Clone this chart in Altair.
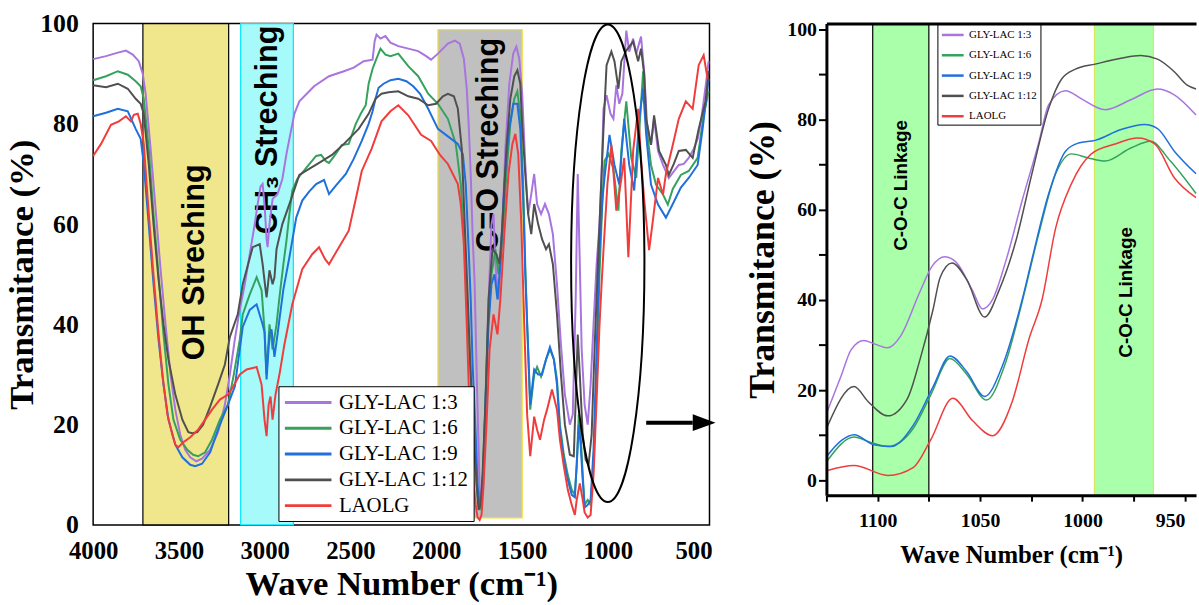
import altair as alt
import pandas as pd

series = ["GLY-LAC 1:3", "GLY-LAC 1:6", "GLY-LAC 1:9", "GLY-LAC 1:12", "LAOLG"]
colors = ["#a874e0", "#34a25c", "#1f6fdc", "#505050", "#f03c3c"]

# ---------------- left panel: full FTIR spectra ----------------
wn_13 = [4000, 3925, 3856, 3809, 3769, 3734, 3711, 3694, 3665, 3636, 3607, 3578, 3549, 3521, 3492, 3463, 3434, 3399, 3365, 3318, 3272, 3232, 3203, 3174, 3145, 3116, 3087, 3058, 3041, 3024, 3012, 3001, 2989, 2983, 2972, 2954, 2925, 2897, 2873, 2856, 2827, 2798, 2769, 2712, 2625, 2538, 2481, 2423, 2371, 2359, 2348, 2325, 2296, 2267, 2221, 2163, 2105, 2059, 2030, 1990, 1932, 1891, 1863, 1839, 1822, 1811, 1799, 1788, 1776, 1764, 1753, 1747, 1741, 1730, 1718, 1701, 1689, 1678, 1666, 1655, 1637, 1620, 1597, 1574, 1551, 1533, 1516, 1499, 1481, 1464, 1446, 1429, 1412, 1389, 1366, 1343, 1320, 1296, 1273, 1250, 1221, 1204, 1187, 1175, 1163, 1152, 1135, 1117, 1100, 1083, 1065, 1048, 1036, 1025, 1007, 984, 967, 950, 933, 915, 892, 875, 852, 834, 806, 788, 771, 748, 730, 707, 678, 644, 615, 586, 557, 528, 499, 476, 459, 441, 424, 412]
tr_13 = [92.9, 93.5, 94.2, 94.6, 93.8, 92.5, 90, 86, 75, 63, 51, 40, 30, 23, 18, 15, 13.5, 12.7, 13.2, 15, 18.5, 24, 30, 37, 43, 48, 54, 60, 64, 67.5, 68, 64, 57, 55.4, 60, 65, 66, 69, 74, 77, 82, 84.5, 85.5, 87.5, 89.5, 90.5, 91.2, 92.5, 92.8, 96.5, 97.8, 97, 97.5, 96.2, 95.5, 95, 94.5, 93.5, 92.8, 94, 96, 96.6, 96, 93, 87, 80, 70, 58, 48, 30, 15, 7, 5.5, 8, 18, 38, 50, 60, 62, 52, 45, 55, 75, 88, 94, 95.4, 93, 86, 72, 62, 66, 70, 64, 62, 64, 62, 58, 48, 36, 26, 20, 22, 45, 70, 52, 35, 24, 20, 28, 40, 52, 60, 70, 83, 85.7, 82, 81, 87.7, 84, 86, 98.6, 94.4, 97, 94, 97.4, 90.5, 80, 75.8, 81, 74.6, 71.8, 69.2, 70.5, 71.8, 72, 73.2, 75, 77, 80, 84.5, 89, 92.5]

wn_16 = [4000, 3925, 3856, 3798, 3752, 3723, 3705, 3676, 3648, 3619, 3590, 3561, 3532, 3492, 3451, 3417, 3388, 3347, 3307, 3261, 3214, 3180, 3145, 3128, 3087, 3047, 3018, 3001, 2989, 2972, 2954, 2931, 2914, 2891, 2873, 2856, 2839, 2810, 2758, 2700, 2671, 2642, 2625, 2596, 2550, 2510, 2469, 2440, 2411, 2394, 2371, 2354, 2325, 2296, 2267, 2221, 2163, 2105, 2047, 1990, 1932, 1886, 1857, 1834, 1816, 1799, 1782, 1764, 1753, 1741, 1730, 1718, 1701, 1678, 1655, 1637, 1614, 1591, 1568, 1545, 1527, 1510, 1493, 1481, 1470, 1452, 1429, 1412, 1389, 1360, 1337, 1314, 1296, 1279, 1256, 1233, 1210, 1192, 1181, 1169, 1158, 1146, 1135, 1117, 1100, 1083, 1065, 1048, 1031, 1019, 996, 967, 938, 921, 892, 863, 834, 806, 794, 776, 748, 719, 678, 650, 621, 574, 528, 476, 441, 412]
tr_16 = [88.7, 89.5, 90.5, 89.8, 88.5, 87.5, 85, 75, 62, 50, 38, 28, 21, 17, 15, 14, 13.7, 14.5, 17, 21, 24, 30, 37, 42, 46, 49.4, 46.8, 38.9, 30, 40, 35, 40, 45.4, 52, 56.7, 62, 66.7, 69, 71.2, 73.6, 73.8, 72.5, 72.2, 73.5, 75.8, 76, 80, 82, 83.7, 88, 91, 92.5, 95, 93.8, 93.5, 94, 91.5, 89.5, 86, 84, 81, 76, 68, 55, 40, 30, 18, 8, 4, 3, 8, 20, 38, 50, 55, 50, 57, 70, 80, 85, 86.5, 82, 68, 52, 40, 23, 30, 31.5, 29.6, 33, 35, 33, 29, 20, 14, 10, 7, 6, 12, 22, 18, 10, 4, 5, 4, 12, 30, 50, 65, 72.6, 74, 71, 62.7, 74.6, 84.5, 73.2, 69.2, 84, 90.5, 79.8, 71.8, 67.9, 65.9, 63.9, 67, 69.8, 70.6, 73.2, 81.7, 86.5]

wn_19 = [4000, 3925, 3856, 3798, 3752, 3723, 3705, 3676, 3648, 3619, 3590, 3561, 3521, 3480, 3434, 3405, 3365, 3318, 3272, 3214, 3174, 3128, 3087, 3047, 3012, 3001, 2989, 2972, 2960, 2943, 2925, 2914, 2891, 2856, 2816, 2781, 2741, 2700, 2654, 2625, 2590, 2527, 2481, 2434, 2394, 2371, 2354, 2336, 2307, 2267, 2221, 2174, 2134, 2094, 2047, 1990, 1932, 1874, 1845, 1828, 1811, 1799, 1788, 1770, 1759, 1747, 1736, 1724, 1712, 1695, 1678, 1660, 1643, 1626, 1603, 1579, 1551, 1527, 1510, 1493, 1481, 1464, 1452, 1429, 1406, 1383, 1360, 1337, 1314, 1296, 1279, 1256, 1233, 1210, 1192, 1181, 1169, 1158, 1146, 1135, 1117, 1100, 1083, 1065, 1048, 1031, 1019, 990, 961, 933, 904, 875, 846, 817, 794, 776, 748, 707, 661, 621, 574, 528, 476, 447, 412]
tr_19 = [81.5, 82.2, 83, 82.5, 79, 77, 72, 60, 48, 37, 28, 21, 16, 13.5, 12, 11.7, 12.2, 14.5, 19, 24, 27.6, 39.5, 42.9, 44, 40, 38.5, 29, 38, 39, 33.5, 38, 41, 47, 53.4, 61.3, 64.7, 66.5, 68, 68.8, 66, 67.5, 70, 73, 76.6, 80, 82.5, 85, 87.2, 88, 88.7, 89, 88.5, 87.5, 86, 83, 79, 77.5, 76, 74, 68, 55, 45, 32, 18, 8, 4, 5, 12, 25, 40, 48, 50, 45, 52, 68, 78, 84, 84, 79, 65, 50, 35, 24, 31, 30, 30, 33, 35.5, 33, 28, 19, 13, 9, 6, 5.5, 12, 20, 16, 9, 3.5, 4, 5, 15, 35, 55, 65, 69.2, 77.8, 71.8, 67.9, 81, 71.8, 66.7, 81, 87, 77.8, 67.9, 63.9, 61.3, 64, 67.3, 69.2, 71.8, 79, 89]

wn_112 = [4000, 3925, 3856, 3798, 3752, 3723, 3705, 3676, 3648, 3619, 3590, 3561, 3521, 3480, 3445, 3422, 3393, 3359, 3318, 3272, 3232, 3203, 3157, 3128, 3070, 3029, 3012, 2995, 2989, 2972, 2954, 2943, 2931, 2897, 2856, 2798, 2741, 2683, 2608, 2538, 2452, 2394, 2354, 2319, 2278, 2221, 2163, 2105, 2047, 2001, 1961, 1932, 1897, 1874, 1851, 1834, 1816, 1799, 1782, 1764, 1753, 1741, 1730, 1712, 1695, 1672, 1649, 1631, 1614, 1591, 1568, 1545, 1527, 1510, 1499, 1481, 1464, 1446, 1429, 1406, 1383, 1360, 1343, 1320, 1296, 1273, 1250, 1221, 1198, 1187, 1175, 1163, 1146, 1129, 1112, 1094, 1077, 1054, 1036, 1025, 1007, 979, 961, 938, 921, 892, 852, 823, 806, 788, 776, 748, 730, 701, 661, 644, 615, 586, 545, 505, 470, 430, 412]
tr_112 = [87.7, 87.3, 88, 87, 85, 84, 82, 72, 60, 49, 40, 33, 26, 21, 18.5, 18.3, 18.5, 20, 23.6, 28, 32, 37.5, 42, 48, 55.4, 56, 52, 47, 45.4, 50.8, 48, 49.4, 55, 60, 64, 69.8, 71, 72.2, 73.8, 76, 79, 82, 85, 86, 86.3, 86.5, 85.5, 85, 83.7, 84, 85.5, 86, 85.5, 83, 75, 60, 45, 30, 18, 8, 3, 4, 10, 25, 45, 55, 54, 52, 60, 75, 85, 89.5, 90.7, 88, 80, 70, 62, 58, 64, 60, 57, 55, 56, 52, 42, 30, 20, 14, 13.7, 25, 38, 30, 18, 13, 12, 18, 35, 55, 70, 79, 91.7, 94.4, 92.5, 87, 92.5, 94.6, 96.4, 92.5, 95, 90, 81, 75.8, 81.7, 74.6, 71.8, 69.8, 72, 74.6, 74.8, 73.2, 79, 84.5, 90.5]

wn_la = [4000, 3954, 3896, 3850, 3809, 3780, 3763, 3740, 3723, 3705, 3682, 3653, 3624, 3596, 3567, 3538, 3521, 3503, 3474, 3434, 3388, 3347, 3307, 3261, 3214, 3185, 3145, 3105, 3047, 3018, 3001, 2989, 2977, 2966, 2954, 2937, 2914, 2885, 2839, 2781, 2723, 2683, 2648, 2625, 2567, 2510, 2469, 2434, 2377, 2319, 2267, 2221, 2163, 2088, 2030, 1978, 1932, 1903, 1874, 1857, 1839, 1822, 1805, 1788, 1770, 1759, 1747, 1736, 1724, 1707, 1689, 1666, 1643, 1626, 1603, 1579, 1556, 1539, 1522, 1504, 1487, 1470, 1452, 1429, 1412, 1395, 1371, 1354, 1325, 1296, 1279, 1256, 1233, 1210, 1192, 1181, 1163, 1146, 1135, 1117, 1100, 1083, 1065, 1048, 1036, 1025, 1002, 979, 950, 921, 904, 880, 852, 823, 806, 788, 759, 736, 707, 678, 661, 621, 586, 545, 505, 470, 441, 418]
tr_la = [73.6, 76, 79.8, 80.5, 81.5, 80.5, 81.8, 82, 80, 76, 65, 52, 40, 30, 22, 18, 16, 15.5, 16.5, 17.5, 19, 21, 23, 25, 26, 27.5, 30, 31, 31.5, 28, 21, 17.7, 24, 25.6, 21, 26, 30, 36, 44, 51, 54, 55.4, 53, 52, 55.4, 58.7, 65, 70.6, 75, 80.5, 82.5, 83.7, 81.7, 77.8, 76.6, 73.8, 72, 70, 68, 64, 56, 40, 22, 10, 4, 1.5, 1, 2, 8, 20, 35, 42, 38, 45, 58, 70, 76, 78, 74, 60, 40, 22, 13.7, 21.6, 19, 17, 21, 23, 27, 23, 17, 11.7, 7, 4, 2, 5, 8.3, 5, 2.5, 1.5, 2, 10, 25, 40, 48, 54.8, 68, 75.8, 62.7, 69, 73.2, 53.4, 74.6, 83, 73, 65, 54.8, 61, 69.2, 65.9, 70, 75.8, 81, 84.5, 83, 91.7, 93.7, 89]

# ---------------- right panel: 1125-945 cm-1 zoom ----------------
rwn_13 = [1124.5, 1117.8, 1112.9, 1106.7, 1101.8, 1095.1, 1088.8, 1079.2, 1073.4, 1067.1, 1061.3, 1053.6, 1048.8, 1044.0, 1037.2, 1029.5, 1021.3, 1016.5, 1008.3, 1000.5, 989.0, 976.4, 963.4, 955.2, 944.6]
rtr_13 = [15.4, 23.2, 29, 31, 30.3, 29.4, 32, 42, 47.5, 49.6, 48.2, 42, 38, 40, 49, 62, 75, 83.3, 86.4, 84.6, 82.2, 84.4, 86.8, 85.5, 81]

rwn_16 = [1124.5, 1111.5, 1104.0, 1095.1, 1082.5, 1074.0, 1064.7, 1056.5, 1046.9, 1038.0, 1029.5, 1021.3, 1013.1, 1005.4, 997.2, 989.0, 976.4, 966.8, 957.1, 944.6]
rtr_16 = [4.4, 9.6, 8.5, 7.5, 11.6, 19, 27, 23.5, 17.8, 25.5, 39.5, 54.8, 68, 72.4, 71.5, 70.8, 73.7, 75.2, 70.8, 63.6]

rwn_19 = [1124.5, 1117.8, 1111.5, 1101.8, 1093.6, 1082.5, 1072.9, 1064.7, 1056.5, 1047.8, 1039.1, 1029.5, 1024.7, 1016.5, 1008.3, 1002.0, 993.8, 981.2, 969.7, 963.4, 955.2, 944.6]
rtr_19 = [5.5, 8.8, 10.1, 7.9, 7.5, 12.3, 20.8, 27.6, 24.1, 18.6, 25.4, 40, 49, 63.6, 73, 74.8, 75.4, 77.8, 78.9, 78, 73, 68]

rwn_112 = [1124.5, 1111.5, 1104.7, 1095.1, 1085.4, 1079.2, 1072.9, 1069.5, 1063.7, 1056.5, 1047.8, 1040.6, 1032.4, 1024.7, 1016.5, 1010.2, 1003.4, 993.8, 981.2, 971.6, 963.4, 955.2, 949.1, 944.6]
rtr_112 = [12, 20.8, 17.5, 14.3, 18.2, 27, 38, 45, 48.2, 44.5, 36.2, 42.3, 53.3, 68, 82.5, 89, 91.2, 92.3, 93.6, 94.2, 93.4, 90.6, 87.7, 86.8]

rwn_la = [1124.5, 1111.5, 1095.1, 1082.5, 1074.3, 1063.3, 1053.6, 1044.0, 1034.3, 1026.1, 1019.8, 1013.1, 1005.4, 995.7, 984.1, 973.0, 964.8, 955.2, 944.6]
rtr_la = [2.2, 3.3, 1.1, 2.9, 8.8, 18.2, 13.2, 9.9, 17.5, 31.4, 40, 56, 65.8, 72.4, 74.6, 75.9, 74.6, 67.1, 62.7]

# annotation regions
lb_start = [3710, 3140, 1990]
lb_end = [3210, 2833, 1499]
lb_low = [0, 0, 1.4]
lb_high = [100, 100, 98.8]
lb_fill = ["#f0e68c", "#a6fafa", "#c0c0c0"]
lb_stroke = ["#000000", "#00e5ff", "#f2e030"]
lb_text = ["OH Streching", "CH\u2083 Streching", "C=O Streching"]
lb_text_x = [3405, 2983, 1689]
lb_text_y = [52.4, 78.8, 75.8]

rb_start = [1102.4, 994.2]
rb_end = [1075.0, 965.4]
rb_stroke = ["#000000", "#d8e85a"]
rb_text_x = [1088.8, 978.7]
rb_text_y = [65.4, 41.7]

SERIF = "Liberation Serif"
SANS = "Liberation Sans"


def long_df(pairs):
    rows = []
    for name, (xs, ys) in zip(series, pairs):
        for i, (a, b) in enumerate(zip(xs, ys)):
            rows.append({"series": name, "wn": a, "T": b, "idx": i})
    return pd.DataFrame(rows)


left_df = long_df([(wn_13, tr_13), (wn_16, tr_16), (wn_19, tr_19), (wn_112, tr_112), (wn_la, tr_la)])
right_df = long_df([(rwn_13, rtr_13), (rwn_16, rtr_16), (rwn_19, rtr_19), (rwn_112, rtr_112), (rwn_la, rtr_la)])

lband_df = pd.DataFrame({"s": lb_start, "e": lb_end, "lo": lb_low, "hi": lb_high,
                         "fill": lb_fill, "stroke": lb_stroke})
ltext_df = pd.DataFrame({"x": lb_text_x, "y": lb_text_y, "t": lb_text})
rband_df = pd.DataFrame({"s": rb_start, "e": rb_end, "stroke": rb_stroke,
                         "lo": [-3.3, -3.3], "hi": [101.3, 101.3]})
rtext_df = pd.DataFrame({"x": rb_text_x, "y": rb_text_y, "t": ["C-O-C Linkage"] * 2})

# ---------------- left chart ----------------
LX = alt.Scale(domain=[4000, 407], nice=False, zero=False)
LY = alt.Scale(domain=[0, 100], nice=False, zero=False)

xax_l = alt.Axis(values=[4000, 3500, 3000, 2500, 2000, 1500, 1000, 500], format="d", ticks=False,
                 domain=False, grid=False, labelFlush=False, labelOverlap=False,
                 labelFont=SERIF, labelFontWeight="bold", labelFontSize=25,
                 labelColor="black", labelPadding=14, title="Wave Number (cm\u207b\u00b9)",
                 titleFont=SERIF, titleFontWeight="bold", titleFontSize=35, titleColor="black",
                 titlePadding=3)
yax_l = alt.Axis(values=[0, 20, 40, 60, 80, 100], ticks=False, domain=False, grid=False,
                 labelFlush=False, labelOverlap=False,
                 labelFont=SERIF, labelFontWeight="bold", labelFontSize=26, labelColor="black",
                 labelPadding=15, title="Transmitance (%)", titleFont=SERIF, titleFontWeight="bold",
                 titleFontSize=35, titleColor="black", titlePadding=0)

lbands = alt.Chart(lband_df).mark_rect(strokeWidth=1.2).encode(
    x=alt.X("s:Q", scale=LX, axis=xax_l), x2="e:Q",
    y=alt.Y("lo:Q", scale=LY, axis=yax_l), y2="hi:Q",
    fill=alt.Fill("fill:N", scale=None), stroke=alt.Stroke("stroke:N", scale=None))

ltexts = alt.Chart(ltext_df).mark_text(angle=270, font=SANS, fontWeight="bold", fontSize=31,
                                       color="black", align="center", baseline="middle").encode(
    x=alt.X("x:Q", scale=LX), y=alt.Y("y:Q", scale=LY), text="t:N")

llines = alt.Chart(left_df).mark_line(strokeWidth=2).encode(
    x=alt.X("wn:Q", scale=LX), y=alt.Y("T:Q", scale=LY),
    color=alt.Color("series:N", scale=alt.Scale(domain=series, range=colors), sort=series,
                    legend=alt.Legend(orient="none", legendX=187, legendY=366, title=None,
                                      labelFont=SERIF, labelFontSize=21, labelColor="black",
                                      symbolType="M-1,0L3.7,0", symbolSize=400, symbolStrokeWidth=3,
                                      strokeColor="black", fillColor="white", padding=5,
                                      rowPadding=4, labelOffset=33, labelLimit=300)),
    order="idx:Q")

ellipse_path = ("M0,-1 C0.0848,-1 0.1535,-0.5523 0.1535,0 C0.1535,0.5523 0.0848,1 0,1 "
                "C-0.0848,1 -0.1535,0.5523 -0.1535,0 C-0.1535,-0.5523 -0.0848,-1 0,-1 Z")
ell = alt.Chart(pd.DataFrame({"x": [1000], "y": [52.2]})).mark_point(
    shape=ellipse_path, size=232324, filled=False, color="black", strokeWidth=2, opacity=1).encode(
    x=alt.X("x:Q", scale=LX), y=alt.Y("y:Q", scale=LY))

arrow_line = alt.Chart(pd.DataFrame({"x": [776], "x2": [505], "y": [20.4]})).mark_rule(
    color="black", strokeWidth=4).encode(x=alt.X("x:Q", scale=LX), x2="x2:Q", y=alt.Y("y:Q", scale=LY))
arrow_head = alt.Chart(pd.DataFrame({"x": [438], "y": [20.4]})).mark_point(
    shape="M-1,-0.74 L1,0 L-1,0.74 Z", size=529, filled=True, color="black", opacity=1).encode(
    x=alt.X("x:Q", scale=LX), y=alt.Y("y:Q", scale=LY))

left = alt.layer(lbands, ltexts, llines, ell, arrow_line, arrow_head).properties(
    width=622, height=506, view=alt.ViewBackground(stroke="black", strokeWidth=1.5))

# ---------------- right chart ----------------
RX = alt.Scale(domain=[1125, 944.6], nice=False, zero=False)
RY = alt.Scale(domain=[-3.3, 101.3], nice=False, zero=False)

xax_r = alt.Axis(orient="bottom", values=[1125, 1100, 1075, 1050, 1025, 1000, 975, 950], format="d",
                 labelExpr="datum.value % 50 === 0 ? datum.label : ''", grid=False,
                 labelFlush=14, labelOverlap=False,
                 domainColor="black", domainWidth=3, tickColor="black", tickWidth=2, tickSize=6,
                 labelFont=SERIF, labelFontWeight="bold", labelFontSize=20, labelColor="black",
                 labelPadding=10, title="Wave Number (cm\u207b\u00b9)", titleFont=SERIF,
                 titleFontWeight="bold", titleFontSize=25, titleColor="black", titlePadding=12,
                 zindex=1)
yax_r = alt.Axis(orient="left", values=list(range(0, 101, 10)),
                 labelExpr="datum.value % 20 === 0 ? datum.label : ''", labelFlush=False,
                 labelOverlap=False, grid=False, domainColor="black", domainWidth=3, tickColor="black",
                 tickWidth=2, tickSize=8, labelFont=SERIF, labelFontWeight="bold", labelFontSize=20,
                 labelColor="black", labelPadding=2, title="Transmitance (%)", titleFont=SERIF,
                 titleFontWeight="bold", titleFontSize=36, titleColor="black", titlePadding=5,
                 zindex=1)
xax_top = alt.Axis(orient="top", labels=False, ticks=False, grid=False, title=None,
                   domainColor="black", domainWidth=3, zindex=1)

rbands = alt.Chart(rband_df).mark_rect(fill="#aaffaa", strokeWidth=1.2).encode(
    x=alt.X("s:Q", scale=RX, axis=xax_top), x2="e:Q",
    y=alt.Y("lo:Q", scale=RY, axis=None), y2="hi:Q",
    stroke=alt.Stroke("stroke:N", scale=None))

rtexts = alt.Chart(rtext_df).mark_text(angle=270, font=SANS, fontWeight="bold", fontSize=19,
                                       color="black", align="center", baseline="middle").encode(
    x=alt.X("x:Q", scale=RX, axis=None), y=alt.Y("y:Q", scale=RY, axis=None), text="t:N")

rlines = alt.Chart(right_df).mark_line(strokeWidth=1.5, interpolate="monotone").encode(
    x=alt.X("wn:Q", scale=RX, axis=xax_r), y=alt.Y("T:Q", scale=RY, axis=yax_r),
    color=alt.Color("series:N", scale=alt.Scale(domain=series, range=colors), sort=series,
                    legend=alt.Legend(orient="none", legendX=112, legendY=0, title=None,
                                      labelFont=SERIF, labelFontSize=11, labelColor="black",
                                      symbolType="M-1,0L2.14,0", symbolSize=196, symbolStrokeWidth=2.5,
                                      strokeColor="black", fillColor="white", padding=3,
                                      rowPadding=6.5, labelOffset=12, labelLimit=200)),
    order="idx:Q")

right = alt.layer(rbands, rtexts, rlines).resolve_axis(x="independent", y="independent").properties(
    width=373, height=476, view=alt.ViewBackground(stroke=None))

chart = alt.hconcat(left, right, spacing=29).resolve_scale(color="independent").properties(
    padding={"left": 4, "top": 7, "right": 0, "bottom": 0}, background="white")

chart.save("out.html", embed_options={"renderer": "svg", "actions": False})
